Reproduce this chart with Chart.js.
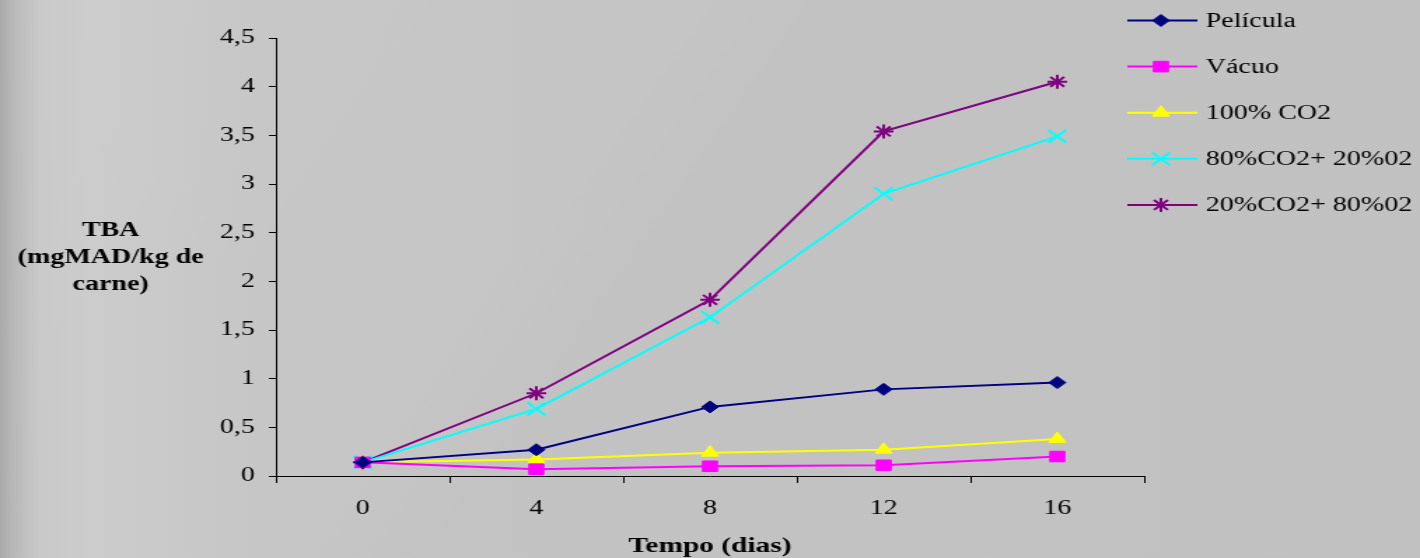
<!DOCTYPE html>
<html lang="pt">
<head>
<meta charset="utf-8">
<title>TBA - Tempo (dias)</title>
<script src="https://cdn.jsdelivr.net/npm/chart.js@4/dist/chart.umd.min.js"></script>
<style>
  html, body { margin: 0; padding: 0; overflow: hidden; }
  body {
    width: 1420px; height: 558px;
    background:
      linear-gradient(125deg, rgba(255,255,255,0.07) 0, rgba(255,255,255,0.05) 38%, rgba(255,255,255,0) 46%),
      linear-gradient(90deg, #a4a4a4 0, #b4b4b4 14px, #c6c6c6 40px, #c9c9c9 90px, #c3c3c3 260px, #c1c1c1 100%);
  }
  /* the original picture is stretched sideways, so the chart is too */
  #wrap {
    width: 1014px; height: 558px;
    transform: scaleX(1.40039); transform-origin: 0 0;
  }
</style>
</head>
<body>
<div id="wrap"><canvas id="tbaChart"></canvas></div>

<script>
/* =========================================================
   TBA (mgMAD/kg de carne) x Tempo (dias)
   ========================================================= */

const dias = ['0', '4', '8', '12', '16'];
const yTicks = [0, 0.5, 1, 1.5, 2, 2.5, 3, 3.5, 4, 4.5];

const pelicula   = [0.14, 0.27, 0.71, 0.89, 0.96];
const vacuo      = [0.14, 0.07, 0.10, 0.11, 0.20];
const co2_100    = [0.14, 0.17, 0.24, 0.27, 0.38];
const co2_80_o2  = [0.14, 0.69, 1.63, 2.90, 3.49];
const co2_20_o2  = [0.14, 0.85, 1.81, 3.54, 4.05];

const serif = "'Liberation Serif', 'Times New Roman', serif";

function serie(label, data, color, style, r) {
  return {
    label, data,
    borderColor: color, backgroundColor: color,
    pointBackgroundColor: color, pointBorderColor: color,
    pointStyle: style, pointRadius: r, pointHoverRadius: r,
    pointBorderWidth: (style === 'crossRot' || style === 'star') ? 2 : 1,
    borderWidth: 2, tension: 0, fill: false
  };
}

// legend (line + marker) and the horizontal y title, drawn on the canvas
const extras = {
  id: 'extras',
  afterDraw(chart) {
    const ctx = chart.ctx;
    ctx.save();

    // y title
    ctx.fillStyle = '#000';
    ctx.font = 'bold 20px ' + serif;
    ctx.textAlign = 'center';
    ctx.textBaseline = 'alphabetic';
    ['TBA', '(mgMAD/kg de', 'carne)'].forEach((t, i) => ctx.fillText(t, 79, 236 + i * 27));

    // x title
    ctx.font = 'bold 21px ' + serif;
    const a = chart.chartArea;
    ctx.fillText('Tempo (dias)', (a.left + a.right) / 2, 552);

    // legend
    ctx.font = '20px ' + serif;
    ctx.textAlign = 'left';
    ctx.textBaseline = 'middle';
    chart.data.datasets.forEach((ds, i) => {
      const y = 20.5 + i * 46.1;
      ctx.strokeStyle = ds.borderColor;
      ctx.lineWidth = 2;
      ctx.beginPath();
      ctx.moveTo(805, y);
      ctx.lineTo(855, y);
      ctx.stroke();
      ctx.fillStyle = ds.pointBackgroundColor;
      ctx.strokeStyle = ds.pointBorderColor;
      ctx.lineWidth = ds.pointBorderWidth;
      Chart.helpers.drawPoint(ctx, {
        pointStyle: ds.pointStyle, radius: ds.pointRadius,
        rotation: 0, borderWidth: ds.pointBorderWidth
      }, 829, y);
      ctx.fillStyle = '#000';
      ctx.fillText(ds.label, 861, y + 1);
    });
    ctx.restore();
  }
};

new Chart(document.getElementById('tbaChart'), {
  type: 'line',
  data: {
    labels: dias,
    datasets: [
      serie('Película',       pelicula,  '#000080', 'rectRot',  6),
      serie('Vácuo',          vacuo,     '#ff00ff', 'rect',     7.5),
      serie('100% CO2',       co2_100,   '#ffff00', 'triangle', 7),
      serie('80%CO2+ 20%02',  co2_80_o2, '#00ffff', 'crossRot', 9),
      serie('20%CO2+ 80%02',  co2_20_o2, '#800080', 'star',     7)
    ]
  },
  options: {
    responsive: true, maintainAspectRatio: false,
    animation: false,
    layout: { padding: { left: 0, right: 197, top: 38, bottom: 0 } },
    plugins: { legend: { display: false }, tooltip: { enabled: false } },
    scales: {
      x: {
        offset: true,
        grid: { offset: true, drawOnChartArea: false, tickLength: 7, color: '#000' },
        border: { color: '#000', width: 1 },
        ticks: { color: '#000', padding: 14, font: { family: serif, size: 20 } },
        afterFit: s => { s.height = 82; }
      },
      y: {
        min: 0, max: 4.5,
        afterBuildTicks: s => { s.ticks = yTicks.map(v => ({ value: v })); },
        grid: { drawOnChartArea: false, tickLength: 5, color: '#000' },
        border: { color: '#000', width: 1 },
        ticks: {
          color: '#000', padding: 10, font: { family: serif, size: 20 },
          callback: v => String(v).replace('.', ',')
        },
        afterFit: s => { s.width = 197; }
      }
    }
  },
  plugins: [extras]
});
</script>
</body>
</html>
